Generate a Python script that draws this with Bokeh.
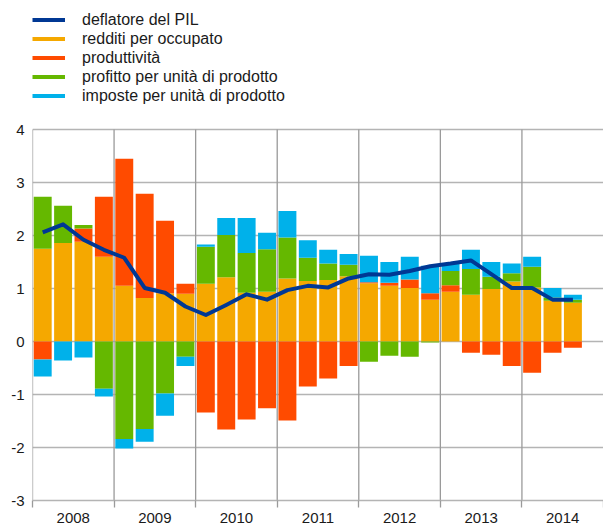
import numpy as np
from bokeh.plotting import figure
from bokeh.models import Range1d, FixedTicker, Legend, LegendItem, ColumnDataSource
from bokeh.embed import file_html
from bokeh.resources import INLINE

years = ["2008", "2009", "2010", "2011", "2012", "2013", "2014"]
quarters = [f"{y} T{q}" for y in years for q in range(1, 5)][:27]
y_ticks = [-3, -2, -1, 0, 1, 2, 3, 4]
y_tick_labels = ["-3", "-2", "-1", "0", "1", "2", "3", "4"]

deflatore = [2.06, 2.21, 1.92, 1.73, 1.58, 1.01, 0.92, 0.66, 0.50, 0.69, 0.89, 0.79,
             0.97, 1.05, 1.02, 1.19, 1.27, 1.26, 1.33, 1.42, 1.47, 1.53, 1.27, 1.01,
             1.01, 0.79, 0.79]
redditi = [1.75, 1.86, 1.88, 1.60, 1.05, 0.82, 0.91, 0.90, 1.09, 1.21, 0.92, 0.94,
           1.19, 1.14, 1.16, 1.23, 1.10, 1.05, 1.01, 0.79, 0.94, 0.88, 0.99, 1.13,
           1.02, 0.77, 0.73]
produttivita = [-0.34, 0.00, 0.25, 1.13, 2.40, 1.97, 1.37, 0.19, -1.34, -1.66, -1.47, -1.26,
                -1.49, -0.85, -0.70, -0.46, 0.02, 0.06, 0.16, 0.12, 0.12, -0.21, -0.25, -0.46,
                -0.59, -0.21, -0.12]
profitto = [0.98, 0.70, 0.07, -0.89, -1.84, -1.65, -0.98, -0.29, 0.70, 0.80, 0.75, 0.80,
            0.77, 0.44, 0.31, 0.22, -0.38, -0.27, -0.29, -0.02, 0.27, 0.49, 0.23, 0.16,
            0.39, 0.06, 0.06]
imposte = [-0.32, -0.36, -0.30, -0.15, -0.18, -0.24, -0.42, -0.17, 0.04, 0.32, 0.66, 0.31,
           0.50, 0.33, 0.26, 0.20, 0.50, 0.39, 0.43, 0.52, 0.13, 0.36, 0.28, 0.18,
           0.19, 0.18, 0.09]

series = [
    ("redditi per occupato", redditi, "#F5A800"),
    ("produttività", produttivita, "#FF4B00"),
    ("profitto per unità di prodotto", profitto, "#65B800"),
    ("imposte per unità di prodotto", imposte, "#00B1EA"),
]
line_color = "#003894"
FONT = "Liberation Sans"
TXT = "#1a1a1a"
GRID_H = "#b4b4b4"
GRID_V = "#9a9a9a"

x = np.arange(len(quarters))
n_slots = 4 * len(years)
y_min, y_max = min(y_ticks), max(y_ticks)

W, H = 603, 531
LEFT, BOTTOM = 32, 31
frame_h = H - BOTTOM
px_per_unit = 53.0
# the frame reaches the top of the figure so that the legend (drawn in it) is not clipped
y_top = y_min + frame_h / px_per_unit

p = figure(width=W, height=H, output_backend="svg", toolbar_location=None,
           x_range=Range1d(-0.5, n_slots - 0.5), y_range=Range1d(y_min, y_top),
           min_border_left=LEFT, min_border_right=0, min_border_top=0, min_border_bottom=BOTTOM)
p.outline_line_color = None
p.background_fill_color = "white"

# vertical year separators, only over the value range
bounds = [-0.5 + 4 * i for i in range(len(years))]
p.segment(x0=bounds, y0=[y_min] * len(bounds), x1=bounds, y1=[y_max] * len(bounds),
          line_color=GRID_V, line_width=1.3)

pos = np.zeros(len(x))
neg = np.zeros(len(x))
for name, vals, col in series:
    v = np.array(vals)
    bottom = np.where(v >= 0, pos, neg)
    top = bottom + v
    pos = np.where(v >= 0, top, pos)
    neg = np.where(v < 0, top, neg)
    src = ColumnDataSource(dict(x=x, bottom=bottom, top=top))
    p.vbar(x="x", bottom="bottom", top="top", width=0.88, source=src,
           fill_color=col, line_color=None)

defl = p.line(x, deflatore, line_color=line_color, line_width=4, line_join="round")

items = [LegendItem(label="deflatore del PIL", renderers=[defl])]
for name, vals, col in series:
    r = p.line([np.nan], [np.nan], line_color=col, line_width=4)
    items.append(LegendItem(label=name, renderers=[r]))

legend = Legend(items=items, location=(0, 395), orientation="vertical",
                background_fill_alpha=0, border_line_color=None,
                label_text_font=FONT, label_text_font_size="16px", label_text_color=TXT,
                glyph_width=33, glyph_height=19, label_height=19, spacing=0,
                label_standoff=17, padding=0, margin=0)
p.add_layout(legend, "center")

# grids
p.ygrid.ticker = FixedTicker(ticks=y_ticks)
p.ygrid.grid_line_color = GRID_H
p.ygrid.grid_line_width = 1.3
p.xgrid.grid_line_color = None

# y axis
p.yaxis.ticker = FixedTicker(ticks=y_ticks)
p.yaxis.major_label_overrides = {t: s for t, s in zip(y_ticks, y_tick_labels)}
p.yaxis.major_tick_out = 0
p.yaxis.major_tick_in = 0
p.yaxis.minor_tick_out = 0
p.yaxis.axis_line_color = None
p.yaxis.major_label_standoff = 8
p.yaxis.major_label_text_font = FONT
p.yaxis.major_label_text_font_size = "15px"
p.yaxis.major_label_text_color = TXT

# x axis
centers = [1.5 + 4 * i for i in range(len(years))]
p.xaxis.ticker = FixedTicker(ticks=centers, minor_ticks=[-0.5 + 4 * i for i in range(len(years) + 1)])
p.xaxis.major_label_overrides = {c: y for c, y in zip(centers, years)}
p.xaxis.major_tick_out = 0
p.xaxis.major_tick_in = 0
p.xaxis.minor_tick_out = 7
p.xaxis.minor_tick_in = 0
p.xaxis.minor_tick_line_color = GRID_V
p.xaxis.minor_tick_line_width = 1.3
p.xaxis.axis_line_color = GRID_H
p.xaxis.axis_line_width = 1.3
p.xaxis.major_label_standoff = 5
p.xaxis.major_label_text_font = FONT
p.xaxis.major_label_text_font_size = "15px"
p.xaxis.major_label_text_color = TXT

open("out.html", "w").write(file_html(p, INLINE))
